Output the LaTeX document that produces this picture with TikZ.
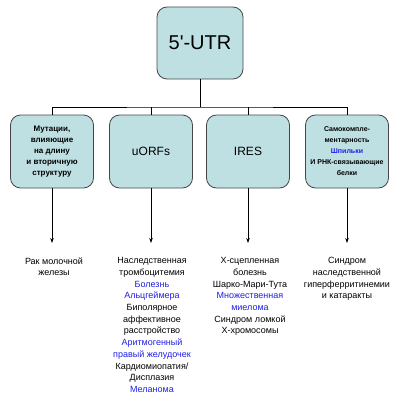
\documentclass[tikz,border=0pt]{standalone}
\usepackage{fontspec}
\setmainfont{Liberation Sans}
\newfontfamily\plainfont{Liberation Sans}[Ligatures=TeXOff]
\usetikzlibrary{arrows.meta}
\definecolor{boxfill}{RGB}{190,224,227}
\definecolor{boxline}{RGB}{70,70,70}
\definecolor{lnk}{RGB}{30,30,230}
\begin{document}
\begin{tikzpicture}[x=1pt,y=1pt,
  box/.style={draw=boxline,fill=boxfill,rounded corners=10pt,line width=0.8pt,
    minimum width=83pt,minimum height=73pt,align=center,inner sep=1pt},
  wire/.style={line width=0.9pt,black},
  arr/.style={line width=0.6pt,-{Stealth[length=5pt,width=3.5pt]}},
  lab/.style={anchor=north,align=center,font=\fontsize{9}{11.7}\selectfont}]
\useasboundingbox (0,0) rectangle (400,-407);
\node[box,minimum width=86pt,minimum height=72pt,font=\plainfont\fontsize{20}{24}\selectfont] (top) at (200,-43) {5'-UTR};
\node[box,font=\fontsize{8}{11}\selectfont\bfseries] (b1) at (52,-151.5) {Мутации,\\влияющие\\на длину\\и вторичную\\структуру};
\node[box,font=\fontsize{12}{14}\selectfont] (b2) at (151,-151.5) {uORFs};
\node[box,font=\fontsize{12}{14}\selectfont] (b3) at (248,-151.5) {IRES};
\node[box,font=\fontsize{7}{11}\selectfont\bfseries] (b4) at (347,-151.5) {Самокомпле-\\ментарность\\\textcolor{lnk}{Шпильки}\\И РНК-связывающие\\белки};
\coordinate (bus) at (200,-107);
\draw[wire] (top.south) -- (bus);
\draw[wire] (b1.north) |- (bus) -| (b4.north);
\draw[wire] (b2.north) -- (b2.north |- bus);
\draw[wire] (b3.north) -- (b3.north |- bus);
\node[lab] (t1) at (54,-254) {Рак молочной\\железы};
\node[lab] (t2) at (152,-254) {Наследственная\\тромбоцитемия\\\textcolor{lnk}{Болезнь}\\\textcolor{lnk}{Альцгеймера}\\Биполярное\\аффективное\\расстройство\\\textcolor{lnk}{Аритмогенный}\\\textcolor{lnk}{правый желудочек}\\Кардиомиопатия/\\Дисплазия\\\textcolor{lnk}{Меланома}};
\node[lab] (t3) at (250,-254) {X-сцепленная\\болезнь\\Шарко-Мари-Тута\\\textcolor{lnk}{Множественная}\\\textcolor{lnk}{миелома}\\Синдром ломкой\\X-хромосомы};
\node[lab] (t4) at (347,-254) {Синдром\\наследственной\\гиперферритинемии\\и катаракты};
\draw[arr] (b1.south) -- (b1.south |- 0,-243);
\draw[arr] (b2.south) -- (b2.south |- 0,-243);
\draw[arr] (b3.south) -- (b3.south |- 0,-243);
\draw[arr] (b4.south) -- (b4.south |- 0,-243);
\end{tikzpicture}
\end{document}
